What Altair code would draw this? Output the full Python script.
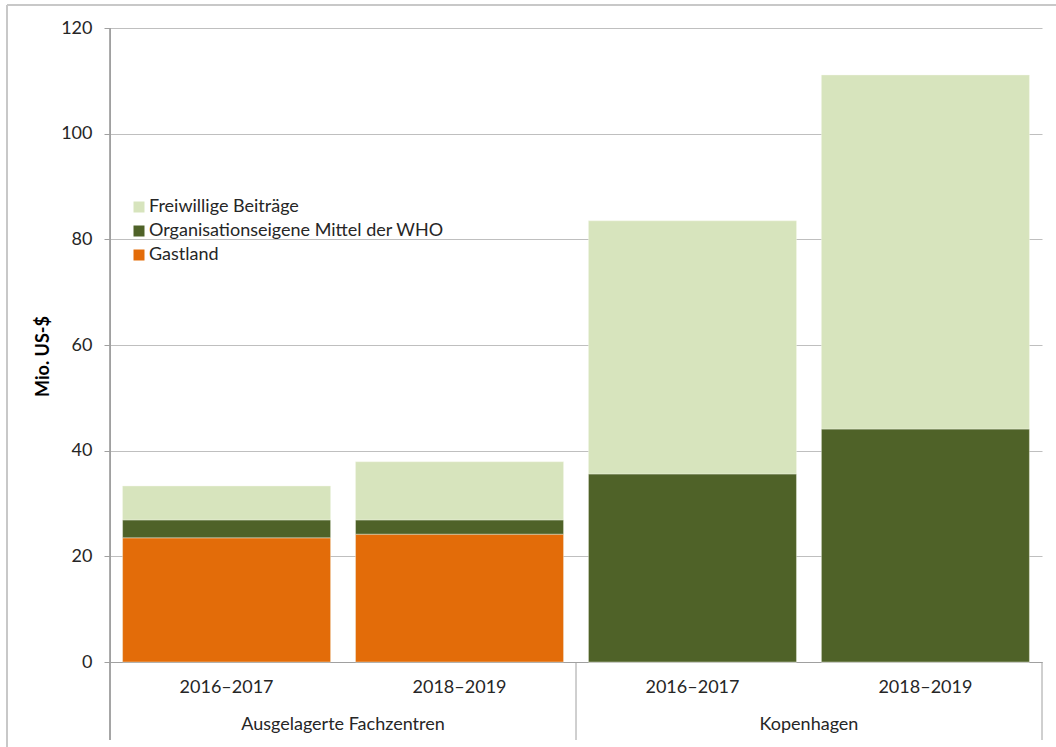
import altair as alt
import pandas as pd

# Budget by location and biennium (million US$)
groups = ["Ausgelagerte Fachzentren", "Ausgelagerte Fachzentren", "Kopenhagen", "Kopenhagen"]
periods = ["2016–2017", "2018–2019", "2016–2017", "2018–2019"]
gastland = [23.5, 24.2, 0.0, 0.0]
who_mittel = [3.4, 2.7, 35.6, 44.1]
freiwillig = [6.4, 11.0, 47.9, 67.0]

series_names = ["Freiwillige Beiträge", "Organisationseigene Mittel der WHO", "Gastland"]
series_colors = ["#D7E4BD", "#4F6228", "#E36C09"]
stack_order = {"Gastland": 0, "Organisationseigene Mittel der WHO": 1, "Freiwillige Beiträge": 2}

rows = []
for g, p, a, b, c in zip(groups, periods, gastland, who_mittel, freiwillig):
    key = f"{g}|{p}"
    for name, val in (("Gastland", a), ("Organisationseigene Mittel der WHO", b), ("Freiwillige Beiträge", c)):
        rows.append({"key": key, "gruppe": g, "periode": p, "serie": name, "wert": val, "ord": stack_order[name]})
df = pd.DataFrame(rows)
keys = [f"{g}|{p}" for g, p in zip(groups, periods)]

W, H = 932, 634
FONT = "Lato"
FS = 18
GRID = "#BFBFBF"
LINE = "#A0A0A0"
TXT = "#262626"
band_scale = alt.Scale(domain=keys, paddingInner=0.107, paddingOuter=0.054)

x_enc = alt.X("key:N", sort=keys, scale=band_scale,
              axis=alt.Axis(title=None, labelExpr="split(datum.label, '|')[1]", labelAngle=0,
                            ticks=False, domainColor=LINE, labelFont=FONT, labelFontSize=FS,
                            labelColor=TXT, labelPadding=16, grid=False))

bars = alt.Chart(df).mark_bar(stroke="#F4F7EC", strokeWidth=0.4).encode(
    x=x_enc,
    y=alt.Y("wert:Q", stack="zero", scale=alt.Scale(domain=[0, 120], nice=False),
            axis=alt.Axis(values=[0, 20, 40, 60, 80, 100, 120], title="Mio. US-$",
                          titleFont=FONT, titleFontSize=FS, titleFontWeight="bold", titleColor="#000000",
                          titleAngle=-90, titleX=-67, titleY=328, titleAlign="center", titleBaseline="middle",
                          labelFont=FONT, labelFontSize=FS, labelColor=TXT, labelPadding=12,
                          tickSize=6, tickColor=LINE, domainColor=LINE, gridColor=GRID)),
    color=alt.Color("serie:N", scale=alt.Scale(domain=series_names, range=series_colors),
                    legend=alt.Legend(title=None, orient="none", legendX=20, legendY=170,
                                      symbolType="square", symbolSize=121, symbolStrokeWidth=0,
                                      labelFont=FONT, labelFontSize=FS, labelColor=TXT,
                                      labelLimit=0, rowPadding=6, padding=0, labelOffset=1)),
    order=alt.Order("ord:Q"),
)

# group labels centred under each pair of bars
grp_df = pd.DataFrame({"key": [keys[0], keys[2]], "gruppe": [groups[0], groups[2]]})
grp_text = alt.Chart(grp_df).mark_text(font=FONT, fontSize=FS, color=TXT, dx=W / 8, baseline="middle").encode(
    x=alt.X("key:N", sort=keys, scale=band_scale, axis=None),
    y=alt.value(H + 63),
    text="gruppe:N",
)

# vertical separators in the category label area
sep_df = pd.DataFrame({"pos": [0, W / 2, W]})
seps = alt.Chart(sep_df).mark_rule(color=LINE, strokeWidth=1).encode(
    x=alt.X("pos:Q", scale=alt.Scale(domain=[0, W], range=[0, W]), axis=None),
    y=alt.value(H), y2=alt.value(H + 78),
)
left_sep = alt.Chart(sep_df).mark_rule(color=LINE, strokeWidth=1).encode(
    x=alt.value(0), y=alt.value(0), y2=alt.value(H + 78))

# outer chart frame
frame_top = alt.Chart(sep_df).mark_rule(color="#C8C8C8", strokeWidth=2).encode(
    x=alt.value(-103), x2=alt.value(W + 14), y=alt.value(-23))
frame_left = alt.Chart(sep_df).mark_rule(color="#C8C8C8", strokeWidth=2).encode(
    x=alt.value(-103), y=alt.value(-23), y2=alt.value(H + 85))

chart = alt.layer(bars, grp_text, seps, left_sep, frame_top, frame_left).resolve_scale(x="independent").properties(
    width=W, height=H,
    autosize=alt.AutoSizeParams(type="none"),
    padding={"left": 110, "top": 28, "right": 14, "bottom": 85},
    background="#FFFFFF",
).configure_view(stroke=None)

chart.save("out.html", embed_options={"renderer": "svg", "actions": False})
